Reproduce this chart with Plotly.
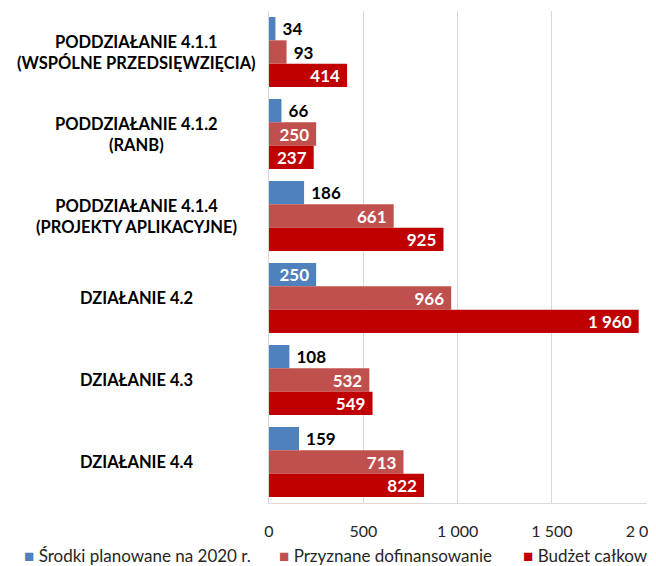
import plotly.graph_objects as go

categories = [
    "PODDZIAŁANIE 4.1.1<br>(WSPÓLNE PRZEDSIĘWZIĘCIA)",
    "PODDZIAŁANIE 4.1.2<br>(RANB)",
    "PODDZIAŁANIE 4.1.4<br>(PROJEKTY APLIKACYJNE)",
    "DZIAŁANIE 4.2",
    "DZIAŁANIE 4.3",
    "DZIAŁANIE 4.4",
]
srodki = [34, 66, 186, 250, 108, 159]
dofinansowanie = [93, 250, 661, 966, 532, 713]
budzet = [414, 237, 925, 1960, 549, 822]
series_names = ["Środki planowane na 2020 r.", "Przyznane dofinansowanie", "Budżet całkowity"]
colors = ["#4F81BD", "#C0504D", "#C00000"]
tick_vals = [0, 500, 1000, 1500, 2000]

FONT = "Lato, 'Open Sans', sans-serif"
NB = "\u00a0"

fig = go.Figure()
for name, vals, col in zip(series_names, [srodki, dofinansowanie, budzet], colors):
    inside = [v >= 200 for v in vals]
    fig.add_trace(go.Bar(
        y=categories, x=vals, name=name, orientation="h",
        marker=dict(color=col, line=dict(width=0)),
        texttemplate=["%{x:,.0f}" + NB if i else NB + "%{x:,.0f}" for i in inside],
        textposition=["inside" if i else "outside" for i in inside],
        insidetextanchor="end",
        insidetextfont=dict(color="white", size=17, family=FONT, weight="bold"),
        outsidetextfont=dict(color="black", size=17, family=FONT, weight="bold"),
        constraintext="none",
        cliponaxis=False,
        showlegend=False,
    ))

# category labels, centred like the original
annotations = []
for c in categories:
    annotations.append(dict(
        x=-0.35, xref="paper", y=c, yref="y", text=c, showarrow=False,
        xanchor="center", align="center",
        font=dict(family=FONT, size=16.5, color="black", weight="bold"),
    ))

# legend drawn as annotations so it stays on one row (clipped at right like the source)
legend_x = [-0.6525, 0.0212, 0.6658]
for name, col, lx in zip(series_names, colors, legend_x):
    annotations.append(dict(
        x=lx, xref="paper", y=-0.1077, yref="paper", showarrow=False,
        xanchor="left", yanchor="middle",
        text=f"<span style='color:{col}'>■</span> {name}",
        font=dict(family=FONT, size=17, color="#262626"),
    ))

fig.update_layout(
    width=648, height=558,
    margin=dict(l=261, r=9, t=3, b=63, autoexpand=False),
    barmode="group", bargap=0.146, bargroupgap=0,
    plot_bgcolor="white", paper_bgcolor="white",
    separators=", ",
    annotations=annotations,
    xaxis=dict(
        range=[0, 2004], tickvals=tick_vals, tickformat=",.0f",
        showgrid=True, gridcolor="#d9d9d9", gridwidth=1,
        zeroline=False, showline=True, linecolor="#d9d9d9",
        ticks="", ticklabelstandoff=14, ticklabeloverflow="allow",
        automargin=False,
        tickfont=dict(family=FONT, size=16, color="#262626"),
    ),
    yaxis=dict(
        autorange="reversed", showticklabels=False, ticks="",
        showline=True, linecolor="#d9d9d9", showgrid=False,
    ),
)

fig.write_html("out.html")
